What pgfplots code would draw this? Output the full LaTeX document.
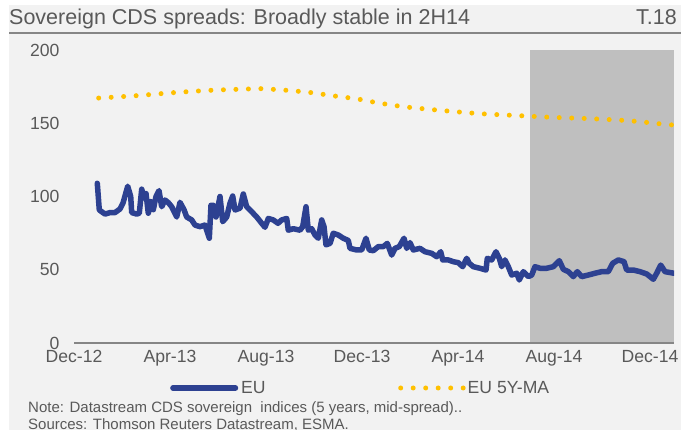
\documentclass[border=0pt]{standalone}
\usepackage{pgfplots}
\pgfplotsset{compat=1.18}
\usepackage{fontspec}
\setmainfont{Liberation Sans}
\definecolor{bgcol}{RGB}{242,242,242}
\definecolor{shade}{RGB}{191,191,191}
\definecolor{eublue}{RGB}{45,65,145}
\definecolor{mayellow}{RGB}{255,192,0}
\definecolor{txtgray}{RGB}{89,89,89}
\definecolor{axgray}{RGB}{134,134,134}
\begin{document}
\begin{tikzpicture}[x=1pt,y=1pt]
\path[use as bounding box] (0,0) rectangle (681,430);
\fill[white] (0,0) rectangle (681,430);
\fill[bgcol] (9,0) rectangle (681,425);
\draw[axgray, line width=2pt] (9,397) -- (681,397);
\node[anchor=base west, inner sep=0pt, text=txtgray, font=\fontsize{21.5}{24}\selectfont] at (9,405) {Sovereign CDS spreads: Broadly stable in 2H14};
\node[anchor=base east, inner sep=0pt, text=txtgray, font=\fontsize{21.5}{24}\selectfont] at (677,405) {T.18};
\node[anchor=west, inner sep=0pt, text=txtgray, font=\fontsize{15}{17}\selectfont] at (28,21) {Note: Datastream CDS sovereign\ \ indices (5 years, mid-spread)..};
\node[anchor=west, inner sep=0pt, text=txtgray, font=\fontsize{15}{17}\selectfont] at (28,5) {Sources: Thomson Reuters Datastream, ESMA.};
\begin{axis}[
  at={(74pt,87pt)}, anchor=south west,
  scale only axis, width=600pt, height=293pt,
  xmin=0, xmax=25, ymin=0, ymax=200,
  axis on top,
  axis x line*=bottom, axis y line*=left,
  x axis line style={axgray, line width=2.5pt, -},
  y axis line style={draw=none},
  major tick length=0pt,
  xtick={0,4,8,12,16,20,24},
  xticklabels={Dec-12,Apr-13,Aug-13,Dec-13,Apr-14,Aug-14,Dec-14},
  ytick={0,50,100,150,200},
  ticklabel style={text=txtgray, font=\fontsize{17.6}{17.6}\selectfont},
  yticklabel style={xshift=-11pt},
  xticklabel style={yshift=-4pt},
  /pgf/number format/assume math mode=true,
  legend columns=2,
  legend style={at={(0.16,-0.1536)}, anchor=west, draw=none, fill=none,
    inner sep=0pt, font=\fontsize{17.6}{17.6}\selectfont, text=txtgray,
    nodes={inner sep=0pt}},
  legend image code/.code={\draw[#1] (0pt,0pt) -- (62.5pt,0pt);},
]
\addplot[fill=shade, draw=none, forget plot] coordinates {(19,0) (25,0) (25,200) (19,200)} -- cycle;
\addplot[eublue, line width=5.5pt, line join=round, line cap=round] coordinates {
(0.971,109) (1.054,90.8) (1.292,88) (1.5,89) (1.708,89) (1.917,91.5) (2.042,95.5)
(2.238,107) (2.363,100) (2.404,89) (2.613,88) (2.721,88.6) (2.821,105) (2.917,99)
(3.0,102) (3.096,88.6) (3.196,96.5) (3.304,91) (3.417,100) (3.542,104) (3.654,93)
(3.792,97.6) (3.929,95.8) (4.071,93) (4.279,86) (4.417,96) (4.583,91) (4.696,86)
(4.904,84) (5.042,80.5) (5.25,79.4) (5.458,80.5) (5.638,71.5) (5.708,94) (5.804,94)
(5.917,86) (6.083,100) (6.196,82.8) (6.363,86) (6.5,95.4) (6.613,100.3) (6.708,90.8)
(6.917,92) (7.054,101.7) (7.196,93) (7.404,89.6) (7.613,86) (7.821,81.7) (7.958,79)
(8.096,85) (8.304,84) (8.5,81.7) (8.654,84) (8.863,85) (8.929,77) (9.138,78)
(9.417,77) (9.529,79.4) (9.667,93) (9.763,77) (9.904,78) (10.042,73.7) (10.179,71.5)
(10.321,84) (10.417,79.4) (10.5,67) (10.667,68) (10.804,74.9) (11.013,73.7) (11.221,71.5)
(11.429,70) (11.5,64.6) (11.779,63.5) (11.988,63.5) (12.167,71.5) (12.304,63.5) (12.471,63)
(12.679,65.8) (12.888,65.8) (13.054,68) (13.238,60) (13.375,64.6) (13.554,65.8) (13.75,71.5)
(13.863,64.6) (14.0,68.5) (14.138,63.5) (14.417,64.6) (14.625,62.3) (14.904,61.2) (15.113,58.9)
(15.279,62.3) (15.363,56.7) (15.596,56.7) (15.804,55.5) (16.013,54.8) (16.196,52.1) (16.363,57.8)
(16.471,54.4) (16.638,52.1) (16.917,51) (17.167,49.8) (17.221,57.8) (17.404,56.7) (17.583,62.3)
(17.721,57.8) (17.821,52.1) (17.958,56.7) (18.096,52.1) (18.238,46.4) (18.446,47.6) (18.554,43)
(18.721,48.7) (18.929,45.3) (19.071,46.4) (19.208,52.1) (19.417,51) (19.696,51) (19.971,52.1)
(20.221,56.2) (20.388,50.3) (20.596,48.7) (20.804,45.3) (20.971,48.7) (21.154,45.3) (21.429,46.4)
(21.708,47.6) (21.988,48.7) (22.263,48.7) (22.446,54.4) (22.679,56.7) (22.917,55.5) (23.029,49.8)
(23.304,49.8) (23.583,48.7) (23.863,47.1) (24.138,43.5) (24.279,47.6) (24.446,53.2) (24.625,48.7)
(25.0,47.6)
};
\addlegendentry{\makebox[160pt][l]{\hspace{3pt}EU}}
\addplot[mayellow, line width=5pt, line cap=round, dash pattern=on 0pt off 12.5pt, smooth] coordinates {
(1.029,167.2) (2.583,168.8) (4.154,170.9) (5.708,172.5) (7.279,173.4) (7.792,173.6)
(8.846,172.5) (9.888,170.9) (10.763,168.8) (11.792,166.6) (12.708,163.8) (13.833,161.1)
(15.404,158.6) (16.958,156.5) (18.529,155.2) (19.971,154) (21.542,153.1) (23.125,151.7)
(24.667,149.2) (25,148.8)
};
\addlegendentry{\hspace{2pt}EU 5Y-MA}
\end{axis}
\end{tikzpicture}
\end{document}
